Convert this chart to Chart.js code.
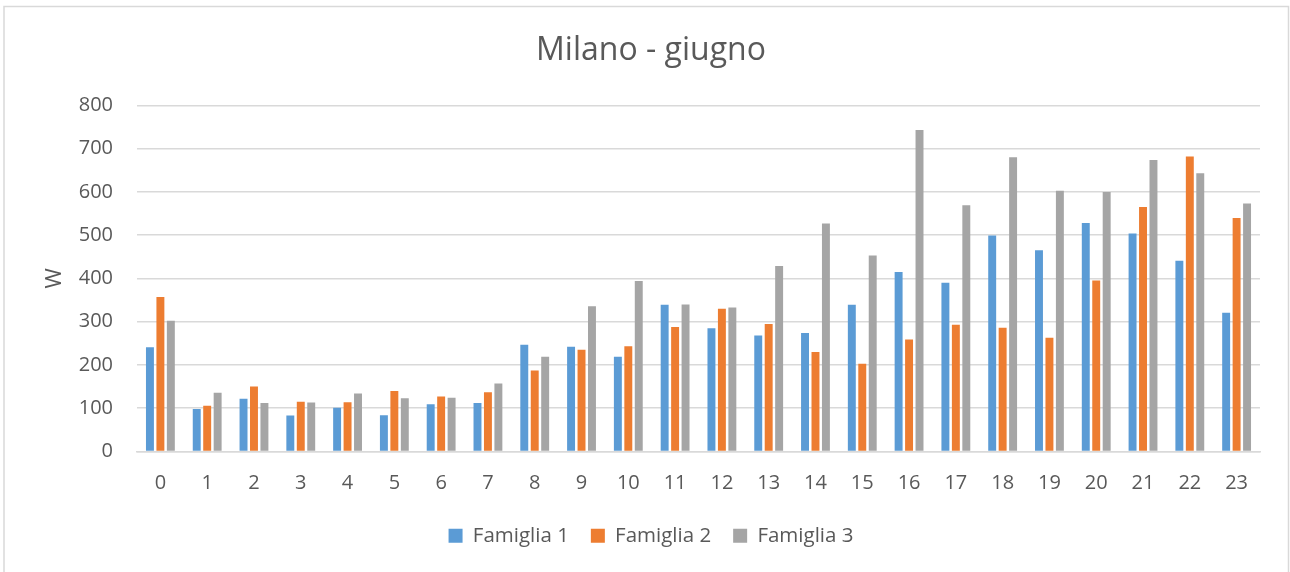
<!DOCTYPE html>
<html>
<head>
<meta charset="utf-8">
<script src="https://cdn.jsdelivr.net/npm/chart.js@4/dist/chart.umd.min.js"></script>
<style>
  html, body { margin: 0; padding: 0; background: #ffffff; }
  #wrap { position: relative; width: 1290px; height: 572px; }
  canvas { display: block; }
</style>
</head>
<body>
<div id="wrap"><canvas id="c" width="1290" height="572"></canvas></div>
<script>
const chartTitle = "Milano - giugno";
const yAxisTitle = "W";
const hours = ["0","1","2","3","4","5","6","7","8","9","10","11","12","13","14","15","16","17","18","19","20","21","22","23"];
const seriesNames = ["Famiglia 1", "Famiglia 2", "Famiglia 3"];
const famiglia1 = [241, 98, 122, 83, 101, 84, 109, 112, 247, 242, 219, 339, 285, 268, 274, 339, 415, 390, 499, 465, 528, 504, 441, 321];
const famiglia2 = [357, 106, 150, 115, 114, 140, 127, 137, 187, 235, 243, 288, 330, 295, 230, 203, 259, 293, 286, 263, 395, 565, 682, 540];
const famiglia3 = [302, 136, 112, 113, 134, 123, 124, 157, 219, 336, 394, 340, 333, 429, 527, 453, 743, 569, 680, 603, 600, 674, 643, 573];
const yTicks = [0, 100, 200, 300, 400, 500, 600, 700, 800];

const FONT = "'Open Sans', 'Liberation Sans', sans-serif";
const TEXT = "#595959";
const GRID = "#d9d9d9";

const frame = {
  id: 'frame',
  beforeDraw(chart) {
    const ctx = chart.ctx;
    ctx.save();
    ctx.fillStyle = '#ffffff';
    ctx.fillRect(0, 0, chart.width, chart.height);
    ctx.strokeStyle = GRID;
    ctx.lineWidth = 1.5;
    ctx.beginPath();
    ctx.moveTo(4, 580);
    ctx.lineTo(4, 6.5);
    ctx.lineTo(1288.5, 6.5);
    ctx.lineTo(1288.5, 580);
    ctx.stroke();
    ctx.restore();
  }
};

new Chart(document.getElementById('c'), {
  type: 'bar',
  data: {
    labels: hours,
    datasets: [
      { label: seriesNames[0], data: famiglia1, backgroundColor: '#5B9BD5', borderWidth: 0 },
      { label: seriesNames[1], data: famiglia2, backgroundColor: '#ED7D31', borderWidth: 0 },
      { label: seriesNames[2], data: famiglia3, backgroundColor: '#A5A5A5', borderWidth: 0 }
    ]
  },
  options: {
    responsive: false,
    animation: false,
    devicePixelRatio: 1,
    datasets: { bar: { categoryPercentage: 0.67, barPercentage: 0.76 } },
    layout: { padding: { left: 12, right: 0, top: 0, bottom: 16 } },
    plugins: {
      title: {
        display: true,
        text: chartTitle,
        color: TEXT,
        font: { family: FONT, size: 32, weight: 'normal' },
        padding: { top: 32, bottom: 35 }
      },
      legend: {
        position: 'bottom',
        labels: {
          color: TEXT,
          font: { family: FONT, size: 20.5 },
          boxWidth: 14,
          boxHeight: 14,
          padding: 22
        }
      },
      tooltip: { enabled: false }
    },
    scales: {
      x: {
        grid: { display: false, drawTicks: false },
        border: { display: true, color: GRID, width: 1.5 },
        ticks: { color: TEXT, font: { family: FONT, size: 20 }, padding: 20, maxRotation: 0, autoSkip: false },
        afterFit(scale) { scale.height = 52; }
      },
      y: {
        min: 0,
        max: 800,
        afterBuildTicks(scale) { scale.ticks = yTicks.map(v => ({ value: v })); },
        grid: { color: GRID, lineWidth: 1.5, drawTicks: false },
        border: { display: false },
        ticks: { color: TEXT, font: { family: FONT, size: 20 }, padding: 24 },
        title: {
          display: true,
          text: yAxisTitle,
          color: TEXT,
          font: { family: FONT, size: 22 },
          padding: { top: 30, bottom: 0 }
        },
        afterFit(scale) { scale.width = 125; }
      },
      yRightSpace: {
        position: 'right',
        display: true,
        min: 0,
        max: 800,
        grid: { display: false, drawTicks: false },
        border: { display: false },
        ticks: { display: false },
        afterFit(scale) { scale.width = 30; }
      }
    }
  },
  plugins: [frame]
});
</script>
</body>
</html>
